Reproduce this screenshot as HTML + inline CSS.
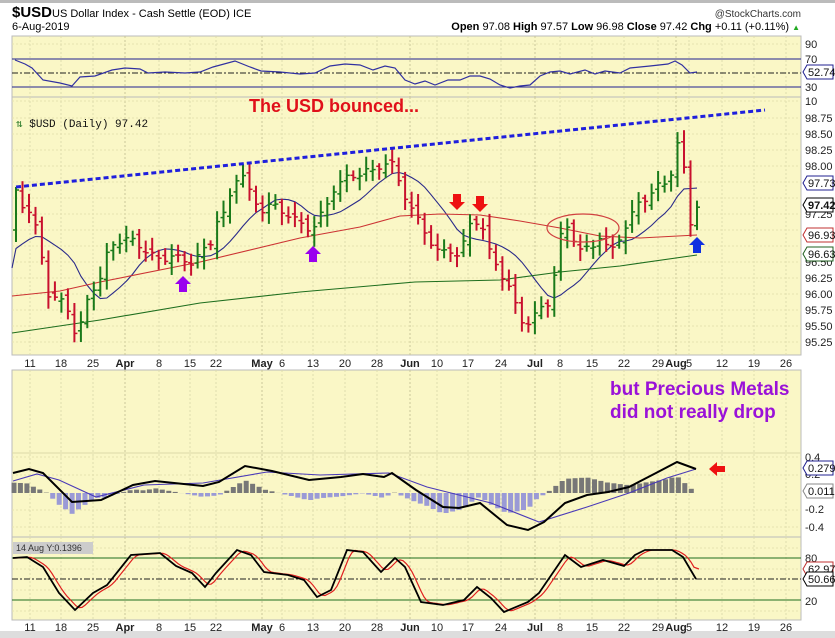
<!DOCTYPE html>
<html><head><meta charset="utf-8"><style>
html,body{margin:0;padding:0;background:#fff;width:835px;height:638px;overflow:hidden}
svg{display:block;font-family:"Liberation Sans",sans-serif}
</style></head><body>
<svg id="c" width="835" height="638" viewBox="0 0 835 638" xmlns="http://www.w3.org/2000/svg"></svg>
<script>
var s='';
function A(t){s+=t;}
var Y='#FAF7C6';
A('<rect x="0" y="0" width="835" height="638" fill="#fff"/>');
A('<rect x="0" y="0" width="835" height="3" fill="#bbb"/>');
A('<rect x="0" y="631" width="835" height="7" fill="#ddd"/>');
function panel(y1,y2){A('<rect x="12" y="'+y1+'" width="789" height="'+(y2-y1)+'" fill="'+Y+'" stroke="#bbb" stroke-width="1"/>');}
panel(36,97);panel(97,355);panel(370,537);panel(537,620);
var dates=[[30,'11'],[61,'18'],[93,'25'],[125,'Apr',1],[159,'8'],[190,'15'],[216,'22'],[262,'May',1],[282,'6'],[313,'13'],[345,'20'],[377,'28'],[410,'Jun',1],[437,'10'],[468,'17'],[501,'24'],[535,'Jul',1],[560,'8'],[592,'15'],[624,'22'],[658,'29'],[676,'Aug',1],[689,'5'],[722,'12'],[754,'19'],[786,'26']];
dates.forEach(function(d){var x=d[0];
 [[36,97],[97,355],[370,537],[537,620]].forEach(function(p){A('<line x1="'+x+'" y1="'+p[0]+'" x2="'+x+'" y2="'+p[1]+'" stroke="'+(d[2]?'#c9c79a':'#dedcae')+'" stroke-dasharray="2,2"/>');});
 [363,627].forEach(function(yy){A('<text x="'+x+'" y="'+(yy+4)+'" font-size="11" text-anchor="middle" fill="#222"'+(d[2]?' font-weight="bold" font-size="12"':'')+'>'+d[1]+'</text>');});
});
A('<text x="12" y="17" font-size="15" font-weight="bold">$USD</text><text x="52" y="17" font-size="11">US Dollar Index - Cash Settle (EOD) ICE</text>');
A('<text x="12" y="30" font-size="11">6-Aug-2019</text>');
A('<text x="801" y="17" font-size="10" text-anchor="end" fill="#333">@StockCharts.com</text>');
A('<text x="800" y="30" font-size="11" text-anchor="end"><tspan font-weight="bold">Open</tspan> 97.08 <tspan font-weight="bold">High</tspan> 97.57 <tspan font-weight="bold">Low</tspan> 96.98 <tspan font-weight="bold">Close</tspan> 97.42 <tspan font-weight="bold">Chg</tspan> +0.11 (+0.11%) <tspan fill="#2a2" font-size="8">▲</tspan></text>');
function lbl(y,t){A('<text x="805" y="'+(y+4)+'" font-size="11" fill="#222">'+t+'</text>');}
function box(y,t,c,b){A('<path d="M803 '+y+' l4 -7 h26 v14 h-26 z" fill="#fff" stroke="'+c+'"/><text x="808" y="'+(y+4)+'" font-size="11" fill="#111"'+(b?' font-weight="bold" font-size="12"':'')+'>'+t+'</text>');}
function poly(pts,c,w,extra){A('<polyline fill="none" stroke="'+c+'" stroke-width="'+w+'" '+(extra||'')+' points="'+pts.map(function(p){return p[0].toFixed(1)+','+p[1].toFixed(1)}).join(' ')+'"/>');}
function interp(k,x){if(x<=k[0][0])return k[0][1];for(var i=0;i<k.length-1;i++){if(x<=k[i+1][0]){var t=(x-k[i][0])/(k[i+1][0]-k[i][0]);return k[i][1]+t*(k[i+1][1]-k[i][1]);}}return k[k.length-1][1];}
function hl(y,c,dash){A('<line x1="12" y1="'+y+'" x2="801" y2="'+y+'" stroke="'+c+'" '+(dash?'stroke-dasharray="'+dash+'"':'')+'/>');}
[44,101].forEach(function(y){hl(y,'#e6e3b0','2,2')});
hl(59,'#202090');hl(87,'#202090');hl(73,'#202020','6,2,2,2');
lbl(44,'90');lbl(59,'70');lbl(87,'30');lbl(101,'10');
var rsi=[[15,60],[25,64],[32,68],[43,80],[60,83],[72,86],[80,77],[95,76],[112,70],[125,68],[140,69],[148,73],[165,72],[185,73],[200,72],[213,67],[235,61],[250,67],[261,71],[280,72],[300,74],[315,73],[330,66],[345,64],[360,65],[373,70],[385,66],[395,68],[405,80],[415,84],[425,81],[435,85],[448,80],[460,80],[470,76],[480,76],[490,79],[500,85],[510,88],[520,86],[530,85],[540,76],[550,72],[560,71],[570,74],[585,70],[595,74],[605,71],[620,73],[630,68],[650,66],[668,64],[675,61],[682,65],[690,73],[697,72]];
poly(rsi,'#3030a0',1.2);
box(72,'52.74','#202090');
for(var p=95.25;p<=98.76;p+=0.25){var y=118+(98.75-p)*64;hl(y,'#e6e3b0','2,2');if(Math.abs(p-97.5)>0.01&&Math.abs(p-97)>0.01&&Math.abs(p-96.75)>0.01)lbl(y,p.toFixed(2));}
A('<text x="16" y="127" font-size="11" font-family="Liberation Mono,monospace" fill="#111"><tspan fill="#2a7a2a">⇅</tspan> $USD (Daily) 97.42</text>');
A('<text x="334" y="112" font-size="18" font-weight="bold" fill="#e0101a" text-anchor="middle">The USD bounced...</text>');
var key=[[16,190],[20,200],[30,215],[40,240],[45,280],[50,300],[60,300],[70,310],[77,345],[82,320],[90,290],[100,280],[110,245],[120,240],[130,240],[140,245],[150,255],[160,260],[170,255],[180,260],[190,262],[200,255],[210,245],[215,220],[225,215],[235,180],[240,170],[245,178],[250,195],[260,210],[270,205],[280,210],[290,215],[300,225],[310,228],[315,225],[325,210],[335,185],[345,180],[355,175],[365,170],[370,175],[380,165],[390,160],[400,185],[410,205],[420,225],[430,240],[440,255],[450,250],[460,255],[470,225],[480,218],[490,255],[500,270],[510,290],[520,320],[530,322],[540,310],[550,300],[555,270],[560,240],[565,225],[570,230],[580,250],[590,250],[600,235],[610,255],[620,235],[630,220],[640,200],[650,195],[660,185],[670,180],[675,140],[680,150],[685,175],[690,220],[693,230],[697,205]];
var N=106,bars=[],pc=null;
for(var i=0;i<N;i++){var x=16+i*(681/(N-1));var c=interp(key,x)+Math.sin(i*1.7)*4;var o=(pc===null?c+40:pc+Math.sin(i*2.9)*4);
 var hi=Math.min(o,c)-(3+Math.abs(Math.sin(i*2.3))*9),lo=Math.max(o,c)+(3+Math.abs(Math.cos(i*1.3))*9);
 bars.push([x,o,c,hi,lo]);pc=c;}
var ma=[];for(var i=0;i<N;i++){var sum=0;for(var j=i-9;j<=i;j++){sum+=(j<0?255:bars[j][2]);}ma.push([bars[i][0],sum/10]);}
ma.unshift([12,268]);
poly(ma,'#2a2a8a',1.1);
poly([[12,296],[60,291],[100,282],[200,262],[300,238],[360,227],[400,216],[440,214],[480,215],[520,221],[560,228],[600,236],[640,238],[697,235]],'#cc3333',1.1);
poly([[12,333],[100,320],[200,303],[300,292],[415,282],[500,280],[560,272],[620,266],[697,255]],'#1e6e1e',1.1);
bars.forEach(function(b){var col=b[2]<b[1]?'#1a7a1a':'#c8102e';
 A('<line x1="'+b[0].toFixed(1)+'" y1="'+b[3].toFixed(1)+'" x2="'+b[0].toFixed(1)+'" y2="'+b[4].toFixed(1)+'" stroke="'+col+'" stroke-width="2"/>');
 A('<line x1="'+(b[0]-3).toFixed(1)+'" y1="'+b[1].toFixed(1)+'" x2="'+b[0].toFixed(1)+'" y2="'+b[1].toFixed(1)+'" stroke="'+col+'" stroke-width="1.5"/>');
 A('<line x1="'+b[0].toFixed(1)+'" y1="'+b[2].toFixed(1)+'" x2="'+(b[0]+3).toFixed(1)+'" y2="'+b[2].toFixed(1)+'" stroke="'+col+'" stroke-width="1.5"/>');});
A('<line x1="16" y1="187" x2="765" y2="110" stroke="#1f1fdd" stroke-width="3" stroke-dasharray="5,3"/>');
A('<ellipse cx="583" cy="228" rx="36" ry="14" fill="none" stroke="#d04040" stroke-width="1.2"/>');
function up(x,y,c){A('<path d="M'+x+' '+y+' l-8 8 h4 v8 h8 v-8 h4 z" fill="'+c+'"/>');}
function dn(x,y,c){A('<path d="M'+x+' '+y+' l-8 -8 h4 v-8 h8 v8 h4 z" fill="'+c+'"/>');}
up(183,276,'#9900ee');up(313,246,'#9900ee');up(697,237,'#1030e0');dn(457,210,'#ee1111');dn(480,212,'#ee1111');
box(183,'97.73','#202090');box(235,'96.93','#c03030');box(254,'96.63','#206020');box(205,'97.42','#000',1);
A('<text x="610" y="395" font-size="19" font-weight="bold" fill="#9a12d8">but Precious Metals</text>');
A('<text x="610" y="418" font-size="19" font-weight="bold" fill="#9a12d8">did not really drop</text>');
[457,475,510,527].forEach(function(y){hl(y,'#e6e3b0','2,2')});
hl(453,'#dcd9a8');
lbl(457,'0.4');lbl(474,'0.2');lbl(509,'-0.2');lbl(527,'-0.4');
var mk=[[13,473],[29,469],[43,473],[72,502],[101,500],[133,485],[155,481],[203,486],[219,482],[245,466],[272,471],[309,480],[341,477],[363,474],[384,477],[392,473],[416,490],[443,507],[459,508],[480,503],[507,525],[528,530],[544,522],[565,503],[587,495],[608,492],[629,487],[656,473],[677,462],[696,469]];
var sg=[[13,481],[37,474],[59,480],[96,497],[144,485],[203,483],[267,472],[320,475],[389,473],[427,487],[491,503],[539,522],[587,507],[629,493],[667,478],[696,469]];
for(var x=14;x<=697;x+=6.45){var d=(interp(mk,x)-interp(sg,x))*1.3;var z=493;
 if(d<0)A('<rect x="'+(x-2.5).toFixed(1)+'" y="'+(z+d).toFixed(1)+'" width="5" height="'+(-d).toFixed(1)+'" fill="#777"/>');
 else A('<rect x="'+(x-2.5).toFixed(1)+'" y="'+z+'" width="5" height="'+d.toFixed(1)+'" fill="#9a9ad6"/>');}
poly(sg,'#4a3ab8',1.1);poly(mk,'#000',2);
A('<path d="M709 469 l8 -7 v4 h8 v6 h-8 v4 z" fill="#ee1111"/>');
box(491,'0.011','#888');box(468,'0.279','#202090');
hl(558,'#1e6e1e');hl(600,'#1e6e1e');hl(579,'#202020','6,2,2,2');
[548,569,590,611].forEach(function(y){hl(y,'#e6e3b0','2,2')});
lbl(558,'80');lbl(601,'20');
A('<rect x="13" y="542" width="80" height="12" fill="#ccc"/><text x="16" y="551" font-size="9" fill="#333">14 Aug Y:0.1396</text>');
var sk=[[13,558],[27,557],[43,567],[59,593],[75,610],[93,593],[107,585],[131,555],[160,553],[176,566],[192,573],[205,587],[216,573],[237,550],[251,555],[264,572],[288,575],[304,580],[317,597],[331,590],[347,550],[363,552],[381,572],[395,558],[405,567],[421,602],[443,605],[464,600],[477,587],[491,598],[504,612],[528,602],[539,593],[565,555],[581,567],[603,560],[624,566],[635,555],[645,550],[672,550],[683,557],[696,579]];
var sd=[];for(var x=13;x<=699;x+=3){var v=(interp(sk,x-2)+interp(sk,x-5)+interp(sk,x-8))/3;sd.push([x,v]);}
sd[sd.length-1]=[699,569];
poly(sd,'#e02020',1.2);poly(sk,'#000',1.8);
box(569,'62.97','#c03030');box(579,'50.66','#000');
document.getElementById('c').innerHTML=s;
</script>
</body></html>
